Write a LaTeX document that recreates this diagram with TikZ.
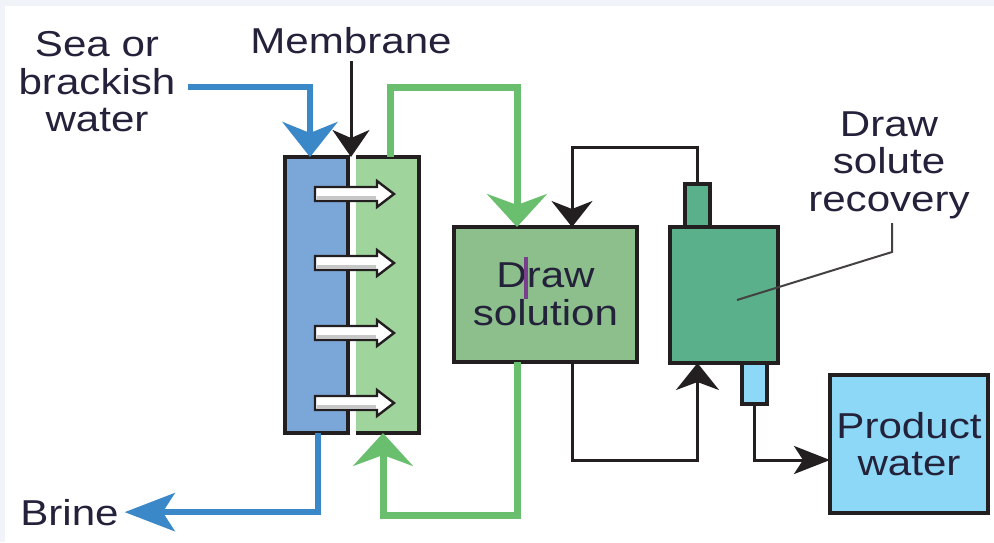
\documentclass[tikz,border=0pt]{standalone}
\usepackage{fontspec}
\newfontfamily\lblfont{Liberation Sans}[FakeStretch=1.17]
\usetikzlibrary{arrows.meta}
\definecolor{bline}{HTML}{3A88C8}
\definecolor{bfill}{HTML}{7AA7D8}
\definecolor{gline}{HTML}{6ABF6E}
\definecolor{gfill}{HTML}{9FD49C}
\definecolor{dsfill}{HTML}{8DBF8C}
\definecolor{recfill}{HTML}{5AB08A}
\definecolor{pfill}{HTML}{8ED8F7}
\definecolor{blk}{HTML}{231F20}
\definecolor{txt}{HTML}{24223A}
\definecolor{bg}{HTML}{F0F4F9}
\definecolor{cursor}{HTML}{7A3F8C}
\begin{document}
\begin{tikzpicture}[x=1pt,y=-1pt,
  box/.style={rectangle, draw=blk, line width=3.5pt, inner sep=0pt, outer sep=0pt},
  lbl/.style={font={\lblfont\fontsize{36}{37.5}\selectfont}, text=txt, inner sep=0pt, outer sep=0pt, align=center},
  blueflow/.style={draw=bline, line width=6.5pt},
  greenflow/.style={draw=gline, line width=7pt},
  blkflow/.style={draw=blk, line width=3pt},
  leader/.style={draw=blk!85, line width=2pt}]
\useasboundingbox (0,0) rectangle (994,542);
\fill[bg] (0,0) rectangle (994,6);
\fill[bg] (0,0) rectangle (5,542);

% membrane module
\node[box, fill=bfill, minimum width=63pt, minimum height=276pt] (feed) at (316.5,295) {};
\node[rectangle, fill=gfill, inner sep=0pt, outer sep=0pt, minimum width=63pt, minimum height=276pt] (drawside) at (387.5,295) {};
\draw[blk, line width=3.5pt] (drawside.north west) -- (drawside.north east) -- (drawside.south east) -- (drawside.south west);
\foreach \yy in {194,263,333,403} {
  \filldraw[fill=white, draw=blk, line width=2.4pt, line join=miter]
    (315,\yy-7) -- (377,\yy-7) -- (377,\yy-13) -- (394,\yy) -- (377,\yy+13) -- (377,\yy+7) -- (315,\yy+7) -- cycle;
  \fill[black!22] (316.5,\yy+1.5) rectangle (375.5,\yy+5.5);
}

% other boxes
\node[box, fill=dsfill, minimum width=183pt, minimum height=135pt, lbl] (ds) at (545.5,294.5) {Draw\\solution};
\draw[cursor, line width=4pt] (526,257) -- (526,299);
\node[box, fill=recfill, minimum width=108pt, minimum height=136pt] (rec) at (724,295) {};
\node[box, fill=recfill, minimum width=25pt, minimum height=43pt] (topnoz) at (697.5,205.5) {};
\node[box, fill=pfill, minimum width=25pt, minimum height=41pt] (botnoz) at (754.5,383.5) {};
\node[box, fill=pfill, minimum width=158pt, minimum height=138pt, lbl] (prod) at (909,444) {Product\\water};

% labels
\node[lbl] (sea) at (97,82) {Sea or\\brackish\\water};
\node[lbl, anchor=base] (memb) at (351,53) {Membrane};
\node[lbl] (dsr) at (889,165) {Draw\\solute\\recovery};
\node[lbl, anchor=base] (brine) at (69.5,525) {Brine};

\coordinate (seain) at (188,87);
\coordinate (membtop) at (351,61);
\coordinate (ldr) at (892,223);
\coordinate (ldrend) at (737,300);

% connectors
\draw[blueflow, -{Stealth[length=35pt,width=55pt,inset=11pt]}] (seain) -| ([xshift=-6.5pt]feed.north);
\draw[blueflow, -{Stealth[length=50pt,width=38pt,inset=12pt]}] ([xshift=1.5pt]feed.south) |- ([xshift=6pt]brine.east);
\draw[blkflow, -{Stealth[length=27pt,width=37pt,inset=8pt]}] (membtop) -- (membtop |- feed.north);
\draw[greenflow, -{Stealth[length=33pt,width=60pt,inset=11pt]}] ([xshift=2.5pt]drawside.north) -- ++(0,-70) -| ([xshift=-28.5pt]ds.north);
\draw[greenflow, -{Stealth[length=33pt,width=60pt,inset=11pt]}] ([xshift=-28.5pt]ds.south) -- ++(0,153) -| ([xshift=-4.5pt]drawside.south);
\draw[blkflow, -{Stealth[length=26pt,width=41pt,inset=8pt]}] (topnoz.north) -- ++(0,-37) -| ([xshift=26.5pt]ds.north);
\draw[blkflow, -{Stealth[length=27pt,width=43pt,inset=8pt]}] ([xshift=26.5pt]ds.south) -- ++(0,98) -| ([xshift=-26.5pt]rec.south);
\draw[blkflow, -{Stealth[length=36pt,width=28pt,inset=9pt]}] (botnoz.south) |- ([yshift=-16pt]prod.west);
\draw[leader] (ldr) -- ++(0,29) -- (ldrend);
\end{tikzpicture}
\end{document}
